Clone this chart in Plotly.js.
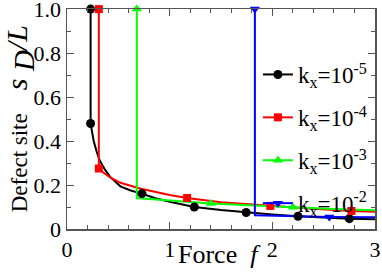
<!DOCTYPE html>
<html>
<head>
<meta charset="utf-8">
<script src="https://cdn.plot.ly/plotly-3.0.1.min.js"></script>
<style>html,body{margin:0;padding:0;background:#fff}#chart{width:382px;height:277px}</style>
</head>
<body>
<div id="chart"></div>
<script>
// ---- data ----
const seriesNames = ['k<sub>x</sub>=10<sup>-5</sup>', 'k<sub>x</sub>=10<sup>-4</sup>', 'k<sub>x</sub>=10<sup>-3</sup>', 'k<sub>x</sub>=10<sup>-2</sup>'];
const xTitle = 'Force\u00a0\u00a0<i>f</i>';
const yTitle = 'Defect site\u00a0\u00a0\u00a0\u00a0<span style="font-size:30px"><i>s</i> <sub><span style="font-size:29px"><i>D</i></span></sub><i>/L</i></span>';

// curve (line) points
const k5LineF = [0.23, 0.23, 0.245, 0.26, 0.29, 0.32, 0.37, 0.42, 0.52, 0.62, 0.73, 0.86, 1.0, 1.24, 1.5, 1.745, 2.0, 2.25, 2.5, 2.75, 3.0];
const k5LineV = [1.0, 0.48, 0.44, 0.40, 0.35, 0.31, 0.27, 0.237, 0.194, 0.175, 0.161, 0.14, 0.124, 0.10, 0.086, 0.075, 0.066, 0.058, 0.052, 0.047, 0.044];
const k4LineF = [0.31, 0.31, 0.33, 0.42, 0.52, 0.72, 1.0, 1.17, 1.5, 1.98, 2.4, 2.77, 3.0];
const k4LineV = [1.0, 0.275, 0.265, 0.235, 0.21, 0.183, 0.155, 0.141, 0.122, 0.105, 0.092, 0.082, 0.079];
const k3LineF = [0.68, 0.68, 1.40, 1.8, 2.20, 2.6, 3.0];
const k3LineV = [1.0, 0.141, 0.116, 0.106, 0.099, 0.091, 0.085];
const k2LineF = [1.83, 1.83, 2.555, 3.0];
const k2LineV = [1.0, 0.062, 0.055, 0.053];

// marker points
const k5MarkF = [0.23, 0.23, 0.73, 1.24, 1.745, 2.25, 2.75];
const k5MarkV = [1.0, 0.48, 0.161, 0.10, 0.075, 0.058, 0.047];
const k4MarkF = [0.31, 0.31, 1.17, 1.98, 2.77];
const k4MarkV = [1.0, 0.275, 0.141, 0.105, 0.082];
const k3MarkF = [0.68, 1.40, 2.20];
const k3MarkV = [1.0, 0.116, 0.099];
const k2MarkF = [1.83, 2.555];
const k2MarkV = [1.0, 0.055];

const xTickVals = [0, 1, 2, 3];
const yTickVals = [0, 0.2, 0.4, 0.6, 0.8, 1.0];
const yTickText = ['0', '0.2', '0.4', '0.6', '0.8', '1.0'];

// ---- build traces ----
const FONT = 'Liberation Serif';
const colors = ['#000000', '#ff0000', '#00ff00', '#0000ff'];
const symbols = ['circle', 'square', 'triangle-up', 'triangle-down'];
const msizes = [9, 8, 9, 9];
const lines = [[k5LineF, k5LineV], [k4LineF, k4LineV], [k3LineF, k3LineV], [k2LineF, k2LineV]];
const marks = [[k5MarkF, k5MarkV], [k4MarkF, k4MarkV], [k3MarkF, k3MarkV], [k2MarkF, k2MarkV]];

function withGaps(arr) { const out = []; arr.forEach(v => { out.push(v); out.push(null); }); return out; }

const traces = [];
for (let i = 0; i < 4; i++) {
  traces.push({
    x: lines[i][0], y: lines[i][1], type: 'scatter', mode: 'lines',
    line: {color: colors[i], width: 2}, showlegend: false, hoverinfo: 'skip', legendgroup: 'g' + i
  });
}
for (let i = 0; i < 4; i++) {
  traces.push({
    x: withGaps(marks[i][0]), y: withGaps(marks[i][1]), type: 'scatter', mode: 'lines+markers',
    connectgaps: false, name: seriesNames[i], legendgroup: 'g' + i, cliponaxis: false,
    line: {color: colors[i], width: 2},
    marker: {color: colors[i], symbol: symbols[i], size: msizes[i]}
  });
}

const axisCommon = {
  showgrid: false, zeroline: false, showline: true, linecolor: '#555', linewidth: 1.5,
  mirror: 'ticks', ticks: 'inside', ticklen: 7, tickcolor: '#555', tickwidth: 1,
  ticklabeloverflow: 'allow',
  tickfont: {family: FONT, size: 22, color: '#000'}
};

const layout = {
  width: 382, height: 277,
  margin: {l: 67, r: 7, t: 9, b: 48},
  paper_bgcolor: '#fff', plot_bgcolor: '#fff',
  font: {family: FONT, color: '#000'},
  xaxis: Object.assign({}, axisCommon, {
    range: [0, 3], tickvals: xTickVals, ticktext: xTickVals.map(String),
    minor: {dtick: 0.2, ticks: 'inside', ticklen: 4, tickcolor: '#555'}
  }),
  yaxis: Object.assign({}, axisCommon, {
    range: [0, 1.0005], tickvals: yTickVals, ticktext: yTickText,
    minor: {dtick: 0.1, ticks: 'inside', ticklen: 4, tickcolor: '#555'}
  }),
  annotations: [
    {text: xTitle, xref: 'paper', yref: 'paper', x: 0.494, y: -0.115, xanchor: 'center', yanchor: 'middle',
     showarrow: false, font: {family: FONT, size: 26, color: '#000'}},
    {text: yTitle, xref: 'paper', yref: 'paper', x: -0.155, y: 0.5, xanchor: 'center', yanchor: 'middle',
     textangle: -90, showarrow: false, font: {family: FONT, size: 23, color: '#000'}}
  ],
  legend: {
    x: 0.99, xanchor: 'right', y: 0.8, yanchor: 'top',
    bgcolor: 'rgba(0,0,0,0)', borderwidth: 0,
    font: {family: FONT, size: 23, color: '#000'},
    itemwidth: 30, tracegroupgap: 10
  },
  showlegend: true
};

Plotly.newPlot('chart', traces, layout, {staticPlot: true, displayModeBar: false});
</script>
</body>
</html>
